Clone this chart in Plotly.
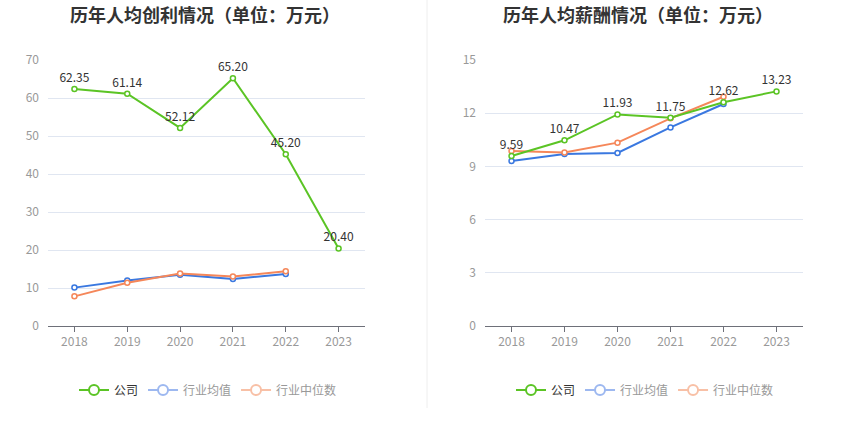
import plotly.graph_objects as go

years = ["2018", "2019", "2020", "2021", "2022", "2023"]

profit_company = [62.35, 61.14, 52.12, 65.20, 45.20, 20.40]
profit_ind_avg = [10.1, 12.0, 13.5, 12.4, 13.7]
profit_ind_med = [7.8, 11.4, 13.8, 13.0, 14.4]

salary_company = [9.59, 10.47, 11.93, 11.75, 12.62, 13.23]
salary_ind_avg = [9.31, 9.70, 9.76, 11.20, 12.52]
salary_ind_med = [9.87, 9.78, 10.34, 11.71, 12.93]

title_left = "历年人均创利情况（单位：万元）"
title_right = "历年人均薪酬情况（单位：万元）"

GREEN = "#5BC425"
BLUE = "#3A78E0"
ORANGE = "#F5875A"
LBLUE = "#9DB8F0"
LORANGE = "#F8C0A6"
FONT = "Noto Sans CJK SC, Microsoft YaHei, sans-serif"

W, H = 850, 436


def px(x):
    return x / W


def py(y):
    return 1 - y / H


fig = go.Figure()


def add_series(xa, ya, comp, avg, med, legend):
    fig.add_trace(go.Scatter(
        x=years[:len(avg)], y=avg, mode="lines+markers", xaxis=xa, yaxis=ya,
        line=dict(color=BLUE, width=2),
        marker=dict(symbol="circle", size=5, color="white", line=dict(color=BLUE, width=1.5)),
        showlegend=False, hoverinfo="skip"))
    fig.add_trace(go.Scatter(
        x=years[:len(med)], y=med, mode="lines+markers", xaxis=xa, yaxis=ya,
        line=dict(color=ORANGE, width=2),
        marker=dict(symbol="circle", size=5, color="white", line=dict(color=ORANGE, width=1.5)),
        showlegend=False, hoverinfo="skip"))
    fig.add_trace(go.Scatter(
        x=years, y=comp, mode="lines+markers+text", xaxis=xa, yaxis=ya,
        text=[f"{v:.2f}" for v in comp], textposition="top center",
        textfont=dict(size=12, color="#333333", family=FONT),
        line=dict(color=GREEN, width=2),
        marker=dict(symbol="circle", size=5, color="white", line=dict(color=GREEN, width=1.5)),
        showlegend=False, hoverinfo="skip"))
    for name, col, txtcol in [("公司", GREEN, "#333333"), ("行业均值", LBLUE, "#999999"),
                              ("行业中位数", LORANGE, "#999999")]:
        fig.add_trace(go.Scatter(
            x=[None], y=[None], mode="lines+markers", xaxis=xa, yaxis=ya,
            name=f'<span style="color:{txtcol}">{name}</span>',
            line=dict(color=col, width=2),
            marker=dict(symbol="circle", size=10, color="white", line=dict(color=col, width=2)),
            showlegend=True, legend=legend))


add_series("x", "y", profit_company, profit_ind_avg, profit_ind_med, "legend")
add_series("x2", "y2", salary_company, salary_ind_avg, salary_ind_med, "legend2")

ydom = [py(326), py(60)]
xcommon = dict(type="category", range=[-0.5, 5.5], showgrid=False, showline=True,
               linecolor="#6E7079", linewidth=1, ticks="outside", ticklen=5, tickcolor="#6E7079",
               tickfont=dict(size=12, color="#999999", family=FONT), zeroline=False,
               categoryorder="array", categoryarray=years)
ycommon = dict(showgrid=True, gridcolor="#E0E6F1", gridwidth=1, showline=False, zeroline=False,
               ticks="", tickfont=dict(size=12, color="#999999", family=FONT), ticklabelstandoff=8)

legcommon = dict(orientation="h", yanchor="middle", y=py(390), xanchor="center",
                 font=dict(size=12, family=FONT, color="#333333"), bgcolor="rgba(0,0,0,0)",
                 itemwidth=30, tracegroupgap=0)

fig.update_layout(
    width=W, height=H, margin=dict(l=0, r=0, t=0, b=0, autoexpand=False),
    paper_bgcolor="white", plot_bgcolor="white",
    font=dict(family=FONT),
    xaxis=dict(domain=[px(48), px(365)], anchor="y", **xcommon),
    yaxis=dict(domain=ydom, anchor="x", range=[0, 70], tickvals=[0, 10, 20, 30, 40, 50, 60, 70], **ycommon),
    xaxis2=dict(domain=[px(485), px(803)], anchor="y2", **xcommon),
    yaxis2=dict(domain=ydom, anchor="x2", range=[0, 15], tickvals=[0, 3, 6, 9, 12, 15], **ycommon),
    legend=dict(x=px(208), **legcommon),
    legend2=dict(x=px(645), **legcommon),
    annotations=[
        dict(text=f"<b>{title_left}</b>", x=px(205), y=py(14), xref="paper", yref="paper",
             xanchor="center", yanchor="middle", showarrow=False,
             font=dict(size=18, color="#333333", family=FONT)),
        dict(text=f"<b>{title_right}</b>", x=px(638), y=py(14), xref="paper", yref="paper",
             xanchor="center", yanchor="middle", showarrow=False,
             font=dict(size=18, color="#333333", family=FONT)),
    ],
    shapes=[dict(type="line", xref="paper", yref="paper", x0=px(427), x1=px(427),
                 y0=py(408), y1=1, line=dict(color="#EEEEEE", width=1))],
)

fig.write_html("out.html", config={"displayModeBar": False},
               post_script="document.body.style.margin='0';document.body.style.overflow='hidden';")
